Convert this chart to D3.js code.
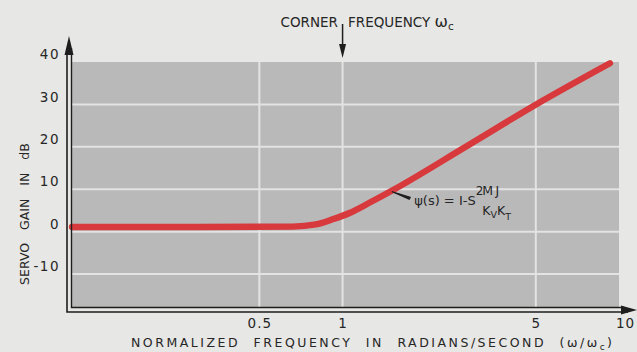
<!DOCTYPE html>
<html>
<head>
<meta charset="utf-8">
<script src="https://cdn.jsdelivr.net/npm/d3@7"></script>
<style>
  html, body { margin: 0; padding: 0; background: #e7e7e5; }
  svg { display: block; }
  text { font-family: "DejaVu Sans", "Liberation Sans", sans-serif; fill: #262626; }
</style>
</head>
<body>
<svg id="chart" width="637" height="352"></svg>
<script>
// Servo gain response (dB) versus normalized frequency ω/ωc
const freq = [0.105, 0.3, 0.66, 0.8, 0.92, 1.06, 1.25, 1.54, 2.77, 4.96, 9.28];
const gain = [1.1, 1.1, 1.2, 1.7, 2.9, 4.4, 6.8, 10, 19.9, 29.8, 39.7];

const yTicks = [40, 30, 20, 10, 0, -10];
const yTickLabels = ["40", "30", "20", "10", "0", "-10"];
const yGrid = [30, 20, 10, 0, -10];

const xTicks = [0.5, 1, 5, 10];
const xTickLabels = ["0.5", "1", "5", "10"];
const xGrid = [0.5, 1, 5];

const cornerFreq = 1;
const formulaAt = 1.5;

const svg = d3.select("#chart");
const W = 637, H = 352;

const x = d3.scaleLog().domain([0.105, 10]).range([72, 619]);
const y = d3.scaleLinear().domain([-18, 40]).range([308, 62]);

svg.append("rect").attr("width", W).attr("height", H).attr("fill", "#e7e7e5");

// shaded plot field
svg.append("rect")
  .attr("x", x.range()[0]).attr("y", y(40))
  .attr("width", x(10) - x.range()[0]).attr("height", y.range()[0] - y(40))
  .attr("fill", "#b9b9ba");

// grid
svg.append("g").selectAll("line").data(yGrid).join("line")
  .attr("x1", x.range()[0]).attr("x2", x(10))
  .attr("y1", d => y(d)).attr("y2", d => y(d))
  .attr("stroke", "#e3e3e3").attr("stroke-width", 2);
svg.append("g").selectAll("line").data(xGrid).join("line")
  .attr("x1", d => x(d)).attr("x2", d => x(d))
  .attr("y1", y(40)).attr("y2", y.range()[0])
  .attr("stroke", "#e3e3e3").attr("stroke-width", 2);

// response curve
const line = d3.line().x((d, i) => x(freq[i])).y(d => y(d)).curve(d3.curveMonotoneX);
svg.append("path").datum(gain).attr("d", line)
  .attr("fill", "none").attr("stroke", "#d8393c").attr("stroke-width", 6.3)
  .attr("stroke-linecap", "round").attr("stroke-linejoin", "round");

// double-ruled axes with arrowheads
const axisInk = "#1e1e1e";
svg.append("path")
  .attr("d", `M67,48 V312 H628`)
  .attr("fill", "none").attr("stroke", axisInk).attr("stroke-width", 1.6);
svg.append("path")
  .attr("d", `M71.5,48 V307.5 H624`)
  .attr("fill", "none").attr("stroke", axisInk).attr("stroke-width", 1.4);
svg.append("path").attr("d", "M69,36 L64.5,55 L73.5,55 Z").attr("fill", axisInk);
svg.append("path").attr("d", "M637,310 L621,305.5 L621,314.5 Z").attr("fill", axisInk);

// y tick labels
const yAxis = d3.axisLeft(y).tickValues(yTicks).tickSize(0).tickPadding(12)
  .tickFormat((d, i) => yTickLabels[i]);
const gy = svg.append("g").attr("transform", "translate(60,0)").call(yAxis);
gy.select(".domain").remove();
gy.selectAll("text")
  .attr("x", 0).attr("dy", "-0.25em")
  .style("font-family", "'DejaVu Sans', sans-serif")
  .style("font-size", "13.5px").style("letter-spacing", "1.5px")
  .attr("fill", "#262626");

// x tick labels
const xAxis = d3.axisBottom(x).tickValues(xTicks).tickSize(0).tickPadding(0)
  .tickFormat((d, i) => xTickLabels[i]);
const gx = svg.append("g").attr("transform", "translate(0,318)").call(xAxis);
gx.select(".domain").remove();
gx.selectAll("text")
  .style("font-family", "'DejaVu Sans', sans-serif")
  .style("font-size", "13.5px").style("letter-spacing", "1px")
  .attr("fill", "#262626");
gx.selectAll(".tick").filter(d => d === 10).select("text").attr("dx", "6");

// axis titles
svg.append("text")
  .attr("transform", "translate(29,214) rotate(-90)")
  .attr("text-anchor", "middle")
  .style("font-size", "12.5px").style("word-spacing", "9px")
  .text("SERVO GAIN IN dB");

const xt = svg.append("text")
  .attr("x", 131).attr("y", 347)
  .attr("textLength", 481).attr("lengthAdjust", "spacing")
  .style("font-size", "12.5px").style("word-spacing", "7px");
xt.append("tspan").text("NORMALIZED  FREQUENCY  IN  RADIANS/SECOND  (\u03c9/\u03c9");
xt.append("tspan").attr("dy", 3).style("font-size", "9px").text("c");
xt.append("tspan").attr("dy", -3).text(")");

// corner frequency marker
svg.append("text").attr("x", 338).attr("y", 27).attr("text-anchor", "end")
  .style("font-size", "13.5px").text("CORNER");
const cf = svg.append("text").attr("x", 348).attr("y", 27)
  .style("font-size", "13.5px");
cf.append("tspan").text("FREQUENCY ");
cf.append("tspan").style("font-size", "16px").text("\u03c9");
cf.append("tspan").attr("dy", 3).style("font-size", "10.5px").text("c");
svg.append("line")
  .attr("x1", x(cornerFreq)).attr("x2", x(cornerFreq))
  .attr("y1", 24).attr("y2", 48)
  .attr("stroke", axisInk).attr("stroke-width", 1.5);
svg.append("path")
  .attr("d", `M${x(cornerFreq)},58 L${x(cornerFreq) - 3.5},44 L${x(cornerFreq) + 3.5},44 Z`)
  .attr("fill", axisInk);

// transfer function annotation
const px = x(formulaAt), py = y(9.4);
svg.append("path")
  .attr("d", `M${px + 1},${py} L${px + 19},${py + 5.5} L${px + 18},${py + 7.5} Z`)
  .attr("fill", axisInk).attr("stroke", axisInk).attr("stroke-width", 1.2)
  .attr("stroke-linejoin", "round");
const ft = svg.append("text").attr("x", px + 23).attr("y", py + 13)
  .style("font-size", "13px");
ft.append("tspan").text("\u03c8(s) = I-S");
ft.append("tspan").attr("dy", -10).style("font-size", "12px").text("2");
svg.append("text").attr("x", px + 91).attr("y", py + 3)
  .style("font-size", "12.5px").style("letter-spacing", "2.5px").text("MJ");
const den = svg.append("text").attr("x", px + 91).attr("y", py + 23)
  .style("font-size", "12.5px");
den.append("tspan").text("K");
den.append("tspan").attr("dy", 3).style("font-size", "9.5px").text("V");
den.append("tspan").attr("dy", -3).text("K");
den.append("tspan").attr("dy", 5).style("font-size", "9.5px").text("T");
</script>
</body>
</html>
